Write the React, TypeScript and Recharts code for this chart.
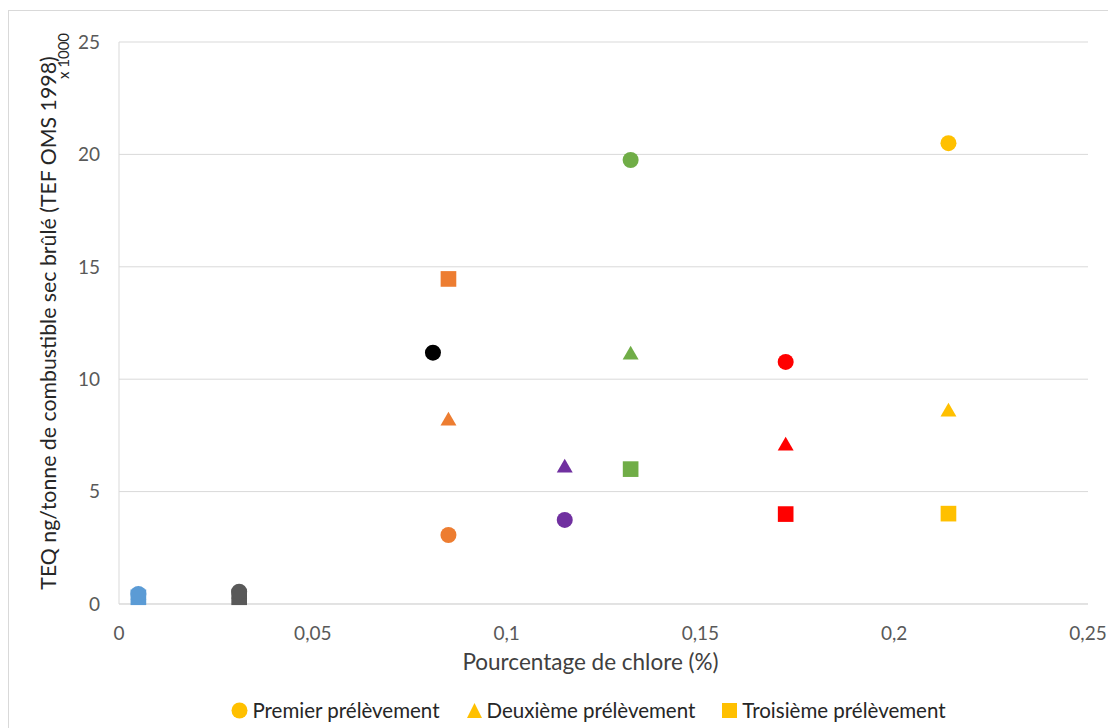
import React from "react";
import {
  ScatterChart,
  Scatter,
  XAxis,
  YAxis,
  CartesianGrid,
  Legend,
  Symbols,
} from "recharts";

// chlorine content (%) for each fuel sample
const chlorinePct = [0.005, 0.031, 0.081, 0.085, 0.115, 0.132, 0.172, 0.214];
// TEQ ng/t (x 1000) per sampling campaign, null = no point
const premier = [0.45, 0.55, 11.18, 3.07, 3.74, 19.75, 10.77, 20.5];
const deuxieme = [0.4, 0.45, null, 8.14, 6.05, 11.08, 7.03, 8.54];
const troisieme = [0.3, 0.3, null, 14.46, null, 6.0, 4.0, 4.02];

const COLORS = ["#5B9BD5", "#595959", "#000000", "#ED7D31", "#7030A0", "#70AD47", "#FF0000", "#FFC000"];

const xTicks = [0, 0.05, 0.1, 0.15, 0.2, 0.25];
const yTicks = [0, 5, 10, 15, 20, 25];

const FONT = "Lato, 'Liberation Sans', sans-serif";

const toPoints = (values: (number | null)[], i: number) =>
  values[i] == null ? [] : [{ x: chlorinePct[i], y: values[i] }];

const fmt = (v: number) => String(v).replace(".", ",");

// marker shapes drawn at the point given by the scatter's scales
const marker = (type: "circle" | "triangle" | "square", size: number) => (props: any) =>
  <Symbols cx={props.cx} cy={props.cy} type={type} size={size} fill={props.fill} />;

const LegendBox = () => (
  <div
    style={{
      display: "flex",
      justifyContent: "center",
      gap: 26,
      height: 26,
      alignItems: "center",
      fontFamily: FONT,
      fontSize: 20.5,
      color: "#262626",
      paddingLeft: 80,
    }}
  >
    <span style={{ display: "flex", alignItems: "center", gap: 4 }}>
      <svg width={17} height={17}>
        <circle cx={8.5} cy={8.5} r={8} fill="#FFC000" />
      </svg>
      Premier prélèvement
    </span>
    <span style={{ display: "flex", alignItems: "center", gap: 4 }}>
      <svg width={17} height={17}>
        <polygon points="8.5,1 16,16 1,16" fill="#FFC000" />
      </svg>
      Deuxième prélèvement
    </span>
    <span style={{ display: "flex", alignItems: "center", gap: 4 }}>
      <svg width={17} height={17}>
        <rect x={1} y={1} width={15} height={15} fill="#FFC000" />
      </svg>
      Troisième prélèvement
    </span>
  </div>
);

const App: React.FC = () => {
  return (
    <div
      style={{
        position: "absolute",
        left: 8,
        top: 10,
        width: 1100,
        height: 718,
        borderTop: "1px solid #d9d9d9",
        borderLeft: "1px solid #d9d9d9",
        boxSizing: "border-box",
        background: "#fff",
      }}
    >
      <ScatterChart width={1099} height={717} margin={{ top: 31, right: 20, bottom: 0, left: 0 }}>
        <CartesianGrid vertical={false} stroke="#d9d9d9" />
        <XAxis
          type="number"
          dataKey="x"
          domain={[0, 0.25]}
          ticks={xTicks}
          tickFormatter={fmt}
          tickLine={false}
          axisLine={{ stroke: "#d9d9d9" }}
          tick={{ fill: "#595959", fontSize: 19, fontFamily: FONT }}
          tickMargin={17}
          height={98}
          label={{
            value: "Pourcentage de chlore (%)",
            position: "insideBottom",
            offset: 32,
            dx: -13,
            fill: "#404040",
            fontSize: 22.5,
            fontFamily: FONT,
          }}
        />
        <YAxis
          type="number"
          dataKey="y"
          domain={[0, 25]}
          ticks={yTicks}
          tickLine={false}
          axisLine={{ stroke: "#d9d9d9" }}
          width={110}
          tickMargin={13}
          tick={{ fill: "#595959", fontSize: 19, fontFamily: FONT }}
          label={() => (
            <g fontFamily={FONT}>
              <text
                transform="translate(47 312) rotate(-90)"
                textAnchor="middle"
                fontSize={21.3}
                fill="#262626"
              >
                TEQ ng/tonne de combustible sec brûlé (TEF OMS 1998)
              </text>
              <text
                transform="translate(60 45) rotate(-90)"
                textAnchor="middle"
                fontSize={15}
                fill="#262626"
              >
                x 1000
              </text>
            </g>
          )}
        />
        <Legend verticalAlign="bottom" content={() => <LegendBox />} wrapperStyle={{ bottom: 5 }} />
        {COLORS.map((c, i) => (
          <Scatter
            key={`s${i}`}
            data={toPoints(troisieme, i)}
            fill={c}
            shape={marker("square", 245)}
            isAnimationActive={false}
            legendType="none"
          />
        ))}
        {COLORS.map((c, i) => (
          <Scatter
            key={`t${i}`}
            data={toPoints(deuxieme, i)}
            fill={c}
            shape={marker("triangle", 110)}
            isAnimationActive={false}
            legendType="none"
          />
        ))}
        {COLORS.map((c, i) => (
          <Scatter
            key={`c${i}`}
            data={toPoints(premier, i)}
            fill={c}
            shape={marker("circle", 201)}
            isAnimationActive={false}
            legendType="none"
          />
        ))}
      </ScatterChart>
    </div>
  );
};

export default App;
